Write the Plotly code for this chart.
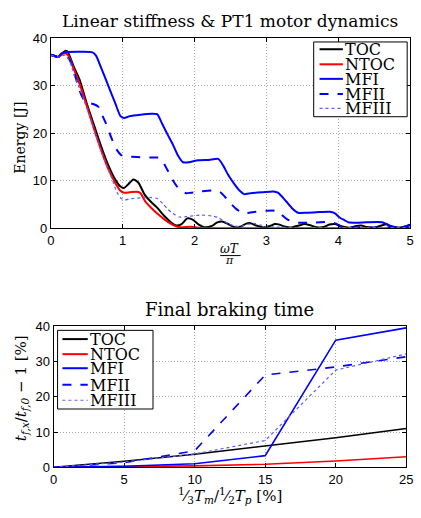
import plotly.graph_objects as go

W, H = 421, 518

# ---------------- data ----------------
series_names = ["TOC", "NTOC", "MFI", "MFII", "MFIII"]

toc_x = [0, 0.05, 0.1, 0.15, 0.2, 0.23, 0.27, 0.32, 0.4, 0.5, 0.6, 0.7, 0.8, 0.9, 0.97, 1.02, 1.08, 1.15,
         1.22, 1.31, 1.4, 1.49, 1.58, 1.68, 1.75, 1.82, 1.9, 1.98, 2.06, 2.14, 2.24, 2.31, 2.38, 2.46, 2.55,
         2.65, 2.72, 2.78, 2.86, 2.96, 3.05, 3.12, 3.17, 3.25, 3.35, 3.45, 3.53, 3.6, 3.7, 3.8, 3.88, 3.95,
         4.05, 4.15, 4.25, 4.32, 4.4, 4.5, 4.6, 4.67, 4.75, 4.85, 4.95, 5.0]
toc_y = [36.4, 36.3, 36.0, 36.6, 37.3, 37.2, 36.0, 34.0, 31.3, 26.3, 21.8, 17.3, 13.3, 10.2, 8.8, 8.5, 9.3, 10.3,
         9.6, 7.0, 5.5, 4.2, 2.6, 1.2, 0.6, 0.9, 2.1, 1.8, 0.8, 0.25, 0.5, 1.2, 1.45, 1.0, 0.3,
         0.4, 1.0, 1.1, 0.6, 0.2, 0.5, 0.9, 0.85, 0.4, 0.2, 0.6, 0.9, 0.7, 0.25, 0.3, 0.8, 0.9,
         0.4, 0.15, 0.5, 0.6, 0.3, 0.15, 0.6, 0.85, 0.4, 0.15, 0.5, 0.8]

ntoc_x = [0, 0.05, 0.1, 0.15, 0.2, 0.25, 0.32, 0.41, 0.5, 0.6, 0.7, 0.8, 0.9, 0.97, 1.02, 1.1, 1.2, 1.25,
          1.31, 1.4, 1.49, 1.58, 1.68, 1.75, 1.82, 1.95, 2.05, 2.2, 2.6, 3.0, 3.5, 4.0, 4.5, 5.0]
ntoc_y = [36.4, 36.3, 36.0, 36.5, 36.8, 36.2, 33.5, 30.0, 25.8, 21.0, 16.5, 12.5, 9.5, 7.9, 7.5, 7.6, 7.7, 7.4,
          5.8, 4.3, 3.0, 1.9, 0.9, 0.4, 0.2, 0.35, 0.15, 0.05, 0.05, 0.05, 0.05, 0.05, 0.05, 0.05]

mfi_x = [0, 0.05, 0.1, 0.15, 0.2, 0.4, 0.58, 0.63, 0.7, 0.8, 0.9, 0.97, 1.02, 1.1, 1.25, 1.4, 1.48, 1.55,
         1.63, 1.7, 1.77, 1.84, 1.92, 2.05, 2.2, 2.33, 2.4, 2.47, 2.56, 2.63, 2.69, 2.78, 2.95, 3.1, 3.16,
         3.21, 3.28, 3.36, 3.44, 3.55, 3.7, 3.88, 3.95, 4.02, 4.09, 4.14, 4.25, 4.4, 4.61, 4.66, 4.72, 4.8,
         4.9, 5.0]
mfi_y = [36.5, 36.3, 36.0, 36.8, 37.0, 37.1, 37.0, 36.3, 33.8, 30.0, 26.2, 23.6, 23.2, 23.6, 23.9, 24.1, 24.0, 22.0,
         19.6, 17.6, 15.3, 13.9, 13.9, 14.3, 14.4, 14.6, 13.2, 11.2, 9.2, 7.9, 7.2, 7.4, 7.6, 7.75, 7.5,
         6.8, 5.6, 4.2, 3.3, 3.3, 3.4, 3.5, 3.2, 2.3, 1.7, 1.3, 1.2, 1.3, 1.3, 1.0, 0.5, 0.2,
         0.2, 0.8]

mfii_x = [0, 0.1, 0.2, 0.26, 0.3, 0.35, 0.4, 0.45, 0.5, 0.6, 0.66, 0.7, 0.77, 0.85, 0.92, 0.98, 1.05, 1.2,
          1.4, 1.52, 1.58, 1.65, 1.72, 1.8, 1.88, 1.95, 2.1, 2.29, 2.36, 2.42, 2.5, 2.58, 2.65, 2.72, 2.85,
          3.0, 3.12, 3.2, 3.28, 3.36, 3.45, 3.6, 3.75, 3.9, 3.97, 4.05, 4.15, 4.5, 5.0]
mfii_y = [36.5, 36.0, 36.3, 35.5, 34.0, 31.5, 29.0, 27.3, 26.5, 26.1, 25.6, 24.3, 22.0, 18.8, 16.5, 15.4, 15.1, 15.0,
          14.9, 14.8, 13.5, 11.5, 9.6, 8.0, 7.4, 7.5, 7.8, 8.0, 7.6, 6.7, 5.3, 4.1, 3.4, 3.2, 3.5,
          3.7, 3.7, 3.0, 2.0, 1.4, 1.2, 1.2, 1.3, 1.3, 1.0, 0.4, 0.2, 0.2, 0.2]

mfiii_x = [0, 0.1, 0.2, 0.27, 0.33, 0.4, 0.46, 0.55, 0.65, 0.75, 0.85, 0.92, 0.98, 1.03, 1.1, 1.25, 1.38,
           1.48, 1.56, 1.63, 1.7, 1.79, 1.9, 2.1, 2.25, 2.33, 2.4, 2.47, 2.56, 2.64, 2.75, 2.83, 2.92, 3.0,
           3.1, 3.3, 4.0, 5.0]
mfiii_y = [36.4, 36.0, 36.4, 35.0, 32.0, 29.5, 27.0, 23.3, 18.5, 14.2, 10.5, 7.6, 6.3, 6.0, 6.2, 6.4, 6.5,
           6.3, 5.2, 4.0, 3.2, 2.4, 2.5, 2.8, 2.6, 2.3, 1.6, 0.95, 0.5, 0.4, 0.9, 1.05, 0.7, 0.4,
           0.3, 0.2, 0.15, 0.15]

top_x = [toc_x, ntoc_x, mfi_x, mfii_x, mfiii_x]
top_y = [toc_y, ntoc_y, mfi_y, mfii_y, mfiii_y]

brake_x = [0, 5, 10, 15, 20, 25]
brake_toc = [0, 1.7, 3.7, 6.0, 8.4, 11.0]
brake_ntoc = [0, 0.2, 0.4, 0.85, 1.8, 3.0]
brake_mfi = [0, 0.3, 1.0, 3.3, 36.1, 39.6]
brake_mfii = [0, 1.3, 4.7, 26.2, 28.5, 31.4]
brake_mfiii = [0, 1.5, 3.8, 7.6, 27.6, 32.2]
bottom_y = [brake_toc, brake_ntoc, brake_mfi, brake_mfii, brake_mfiii]

top_xticks = [0, 1, 2, 3, 4, 5]
top_yticks = [0, 10, 20, 30, 40]
bot_xticks = [0, 5, 10, 15, 20, 25]
bot_yticks = [0, 10, 20, 30, 40]

# ---------------- style ----------------
colors = ["#000000", "#ff0000", "#0000ff", "#0000ff", "#5c5cff"]
dashes = ["solid", "solid", "solid", "dash", "dot"]
top_widths = [2, 2, 2, 2, 1.2]
bot_widths = [1.6, 1.6, 1.6, 1.6, 1.2]

SERIF = "DejaVu Serif"
SANS = "Liberation Sans"


def px(x):
    return x / W


def py(y):
    return 1 - y / H


fig = go.Figure()
for i, name in enumerate(series_names):
    fig.add_trace(go.Scatter(x=top_x[i], y=top_y[i], mode="lines", name=name,
                             line=dict(color=colors[i], width=top_widths[i], dash=dashes[i], shape="spline", smoothing=0.6),
                             xaxis="x", yaxis="y", showlegend=False))
for i, name in enumerate(series_names):
    fig.add_trace(go.Scatter(x=brake_x, y=bottom_y[i], mode="lines", name=name,
                             line=dict(color=colors[i], width=bot_widths[i], dash=dashes[i]),
                             xaxis="x2", yaxis="y2", showlegend=False))

axis_common = dict(showline=True, linecolor="black", linewidth=1, mirror="ticks", ticks="inside",
                   ticklen=4, tickcolor="black", showgrid=True, gridcolor="#a8a8a8", griddash="1px,2px",
                   gridwidth=1, zeroline=False, ticklabeloverflow="allow",
                   tickfont=dict(family=SANS, size=13, color="black"))

fig.update_layout(
    width=W, height=H, margin=dict(l=0, r=0, t=0, b=0),
    paper_bgcolor="white", plot_bgcolor="white",
    xaxis=dict(domain=[px(48), px(417)], range=[0, 5], tickvals=top_xticks, anchor="y", **axis_common),
    yaxis=dict(domain=[py(228), py(32)], range=[0, 40], tickvals=top_yticks, anchor="x", **axis_common),
    xaxis2=dict(domain=[px(51), px(413)], range=[0, 25], tickvals=bot_xticks, anchor="y2", **axis_common),
    yaxis2=dict(domain=[py(474), py(329)], range=[0, 40], tickvals=bot_yticks, anchor="x2", **axis_common),
)

ann = []
shapes = []


def text(x, y, t, size, family=SERIF, angle=0, xanchor="center"):
    ann.append(dict(x=px(x), y=py(y), xref="paper", yref="paper", text=t, showarrow=False,
                    font=dict(family=family, size=size, color="black"), textangle=angle,
                    xanchor=xanchor, yanchor="middle", borderpad=0))


# titles
text(232, 14, "Linear stiffness &amp; PT1 motor dynamics", 17)
text(232, 312, "Final braking time", 18)
# axis labels
text(17, 135, "Energy [J]", 14, angle=-90)
text(232, 249, "<i>ωT</i>", 12)
text(232, 261, "<i>π</i>", 11)
shapes.append(dict(type="line", xref="paper", yref="paper", x0=px(222), x1=px(243), y0=py(256), y1=py(256),
                   line=dict(color="black", width=1)))
text(232, 503, "<sup>1</sup>⁄<sub>3</sub><i>T<sub>m</sub></i>/<sup>1</sup>⁄<sub>2</sub><i>T<sub>p</sub></i> [%]", 15)
text(18, 393, "<i>t<sub>f,x</sub></i>/<i>t<sub>f,0</sub></i> − 1 [%]", 15, angle=-90)


# manual legends
def legend(box, ys, lx0, lx1, tx, size):
    x0, y0, x1, y1 = box
    shapes.append(dict(type="rect", xref="paper", yref="paper", x0=px(x0), x1=px(x1), y0=py(y1), y1=py(y0),
                       line=dict(color="black", width=1), fillcolor="white", layer="above"))
    for i, name in enumerate(series_names):
        shapes.append(dict(type="line", xref="paper", yref="paper", x0=px(lx0), x1=px(lx1), y0=py(ys[i]), y1=py(ys[i]),
                           line=dict(color=colors[i], width=2 if i < 4 else 1.2, dash=dashes[i]), layer="above"))
        text(tx, ys[i] + 0.5, name, size, xanchor="left")


legend((318, 36, 414, 113), [43.5, 59, 74, 89.5, 104.5], 324, 348, 349, 16)
legend((55, 333, 153, 414), [342, 357.5, 372, 389, 405], 60, 86, 87, 16)

fig.update_layout(annotations=ann, shapes=shapes)
fig.write_html("out.html", config={"displayModeBar": False},
               post_script="document.body.style.margin='0';document.body.style.padding='0';")
